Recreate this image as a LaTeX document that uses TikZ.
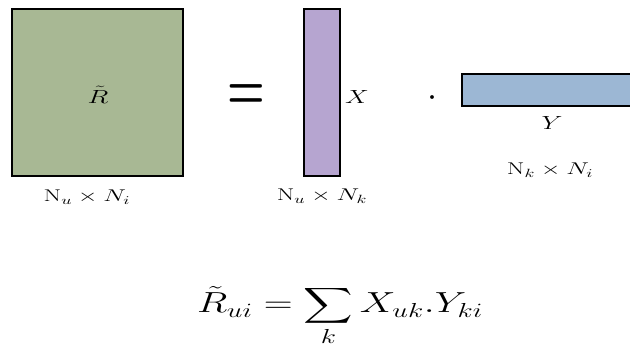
\documentclass[tikz,border=0pt]{standalone}
\usepackage{fix-cm}
\usepackage{amsmath}
\usepackage{graphicx}
\definecolor{matR}{RGB}{168,184,148}
\definecolor{matX}{RGB}{182,165,208}
\definecolor{matY}{RGB}{156,183,212}
\newcommand{\widetext}[2]{\scalebox{#1}[1]{#2}}
\begin{document}
\begin{tikzpicture}[x=1pt,y=-1pt,
  mat/.style={draw=black,line width=1.6pt},
  dimlabel/.style={inner sep=0pt,font=\fontsize{17}{20}\selectfont},
  namelabel/.style={inner sep=0pt,font=\fontsize{19}{23}\selectfont}]
\useasboundingbox (0,0) rectangle (630,360);
\draw[mat,fill=matR] (12,9) rectangle (183,176);
\node[namelabel] (R) at (98,95) {\widetext{1.45}{$\tilde{R}$}};
\node[inner sep=0pt,font=\fontsize{43}{50}\selectfont] (eq) at (246,97) {\scalebox{1}[1.5]{\boldmath$=$}};
\draw[mat,fill=matX] (304,9) rectangle (340,176);
\node[namelabel] (X) at (357,97) {\widetext{1.4}{$X$}};
\node[inner sep=0pt,font=\fontsize{36}{40}\selectfont] (dot) at (432,98) {$\cdot$};
\draw[mat,fill=matY] (462,74) rectangle (640,106);
\node[namelabel] (Y) at (552,123) {\widetext{1.4}{$Y$}};
\node[dimlabel] (dR) at (87,197) {\widetext{1.5}{$\mathrm{N}_u \times N_i$}};
\node[dimlabel] (dX) at (322,196) {\widetext{1.5}{$\mathrm{N}_u \times N_k$}};
\node[dimlabel] (dY) at (550,170) {\widetext{1.5}{$\mathrm{N}_k \times N_i$}};
\node[inner sep=0pt,font=\fontsize{29}{34}\selectfont] (f) at (340,316)
  {\widetext{1.38}{$\displaystyle \tilde{R}_{ui} = \sum_k X_{uk}.Y_{ki}$}};
\end{tikzpicture}
\end{document}
